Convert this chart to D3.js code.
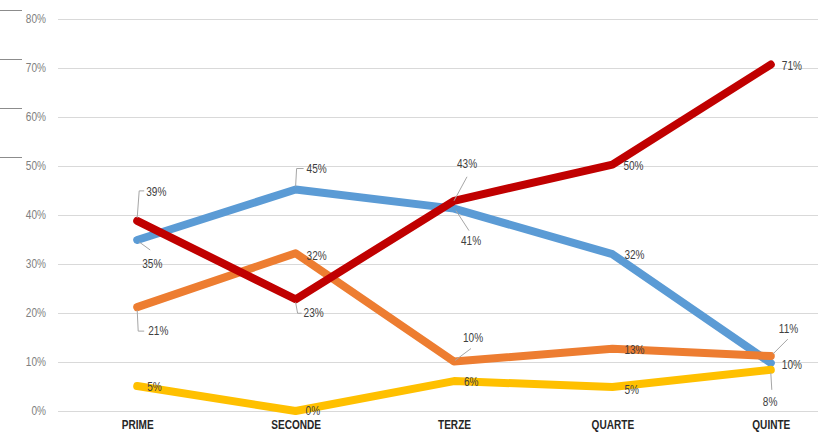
<!DOCTYPE html>
<html><head><meta charset="utf-8">
<script src="https://cdn.jsdelivr.net/npm/d3@7"></script>
<style>
body{margin:0;background:#fff;}
svg{display:block;font-family:"Liberation Sans",Arial,sans-serif;}
</style></head>
<body><svg id="c" width="818" height="435"></svg>
<script>
const categories = ["PRIME","SECONDE","TERZE","QUARTE","QUINTE"];
const yTicks = [0,10,20,30,40,50,60,70,80];
const blueValues   = [34.9, 45.2, 41.3, 32.0, 9.8];
const redValues    = [38.8, 22.8, 42.9, 50.3, 70.7];
const orangeValues = [21.2, 32.2, 10.1, 12.7, 11.2];
const yellowValues = [5.1, 0.0, 6.1, 4.9, 8.4];

const series = [
  {name:"blue",   color:"#5b9bd5", values:blueValues},
  {name:"orange", color:"#ed7d31", values:orangeValues},
  {name:"yellow", color:"#ffc000", values:yellowValues},
  {name:"red",    color:"#c00000", values:redValues}
];

// label placement (dx, dy of text start; optional leader polyline relative to point)
const labelLayout = {
  blue:   [{dx:5,dy:24,ld:[[2,2],[13,10]]},{dx:11,dy:-21,ld:[[0,-3],[1,-21],[8,-21]]},{dx:7,dy:32,ld:[[2,2],[15,22]]},{dx:12,dy:1},{dx:11,dy:2}],
  red:    [{dx:9,dy:-29,ld:[[0,-3],[2,-30],[7,-30]]},{dx:8,dy:14,ld:[[0,3],[2,14],[6,14]]},{dx:3,dy:-37,ld:[[0,0],[13,-24]]},{dx:11,dy:1},{dx:11,dy:1}],
  orange: [{dx:11,dy:24,ld:[[0,3],[1,24],[7,24]]},{dx:11,dy:3},{dx:9,dy:-24,ld:[[1,-1],[17,-13]]},{dx:12,dy:1},{dx:8,dy:-27,ld:[[2,-2],[17,-17]]}],
  yellow: [{dx:10,dy:1},{dx:10,dy:0},{dx:10,dy:1},{dx:12,dy:3},{dx:-8,dy:32,ld:[[0,3],[1,20]]}]
};
const NARROW = 0.84;

const svg = d3.select("#c");
const x = d3.scalePoint().domain(categories).range([58, 850]).padding(0.5);
const y = d3.scaleLinear().domain([0, 80]).range([411, 19]);

// stray short lines at the left edge
svg.append("g").selectAll("line").data([80,70,60,50]).join("line")
  .attr("x1",0).attr("x2",22)
  .attr("y1",d=>Math.round(y(d))-8.5).attr("y2",d=>Math.round(y(d))-8.5)
  .attr("stroke","#8c8c8c").attr("stroke-width",1);

// gridlines
svg.append("g").selectAll("line").data(yTicks).join("line")
  .attr("x1",58).attr("x2",818)
  .attr("y1",d=>Math.round(y(d))+0.5).attr("y2",d=>Math.round(y(d))+0.5)
  .attr("stroke","#d9d9d9").attr("stroke-width",1);

// y axis
const yAxis = d3.axisLeft(y).tickValues(yTicks).tickFormat(d=>d+"%").tickSize(0).tickPadding(0);
const ya = svg.append("g").attr("transform","translate(46,0)").call(yAxis);
ya.select(".domain").remove();
ya.selectAll("text").attr("fill","#808080").attr("font-size",12).attr("font-family",null)
  .attr("transform",`scale(${NARROW},1)`);

// x axis
const xAxis = d3.axisBottom(x).tickSize(0).tickPadding(0);
const xa = svg.append("g").attr("transform","translate(0,420)").call(xAxis);
xa.select(".domain").remove();
xa.selectAll("text").attr("fill","#262626").attr("font-size",12).attr("font-weight","bold")
  .attr("font-family",null).attr("dy","0.71em").attr("transform",`scale(${NARROW},1)`);

// lines
const line = d3.line().x((d,i)=>x(categories[i])).y(d=>y(d));
svg.append("g").selectAll("path").data(series).join("path")
  .attr("d",s=>line(s.values))
  .attr("fill","none").attr("stroke",s=>s.color).attr("stroke-width",8)
  .attr("stroke-linejoin","round").attr("stroke-linecap","round");

// labels
const lg = svg.append("g");
series.forEach(s=>{
  s.values.forEach((v,i)=>{
    const px = x(categories[i]), py = y(v);
    const L = labelLayout[s.name][i];
    if (L.ld) {
      lg.append("polyline")
        .attr("points", L.ld.map(p=>[px+p[0], py+p[1]].join(",")).join(" "))
        .attr("fill","none").attr("stroke","#a6a6a6").attr("stroke-width",1);
    }
    lg.append("text")
      .attr("transform",`translate(${px+L.dx},${py+L.dy}) scale(${NARROW},1)`)
      .attr("dy","0.35em")
      .attr("font-size",12).attr("fill","#404040")
      .text(Math.round(v)+"%");
  });
});
</script></body></html>
